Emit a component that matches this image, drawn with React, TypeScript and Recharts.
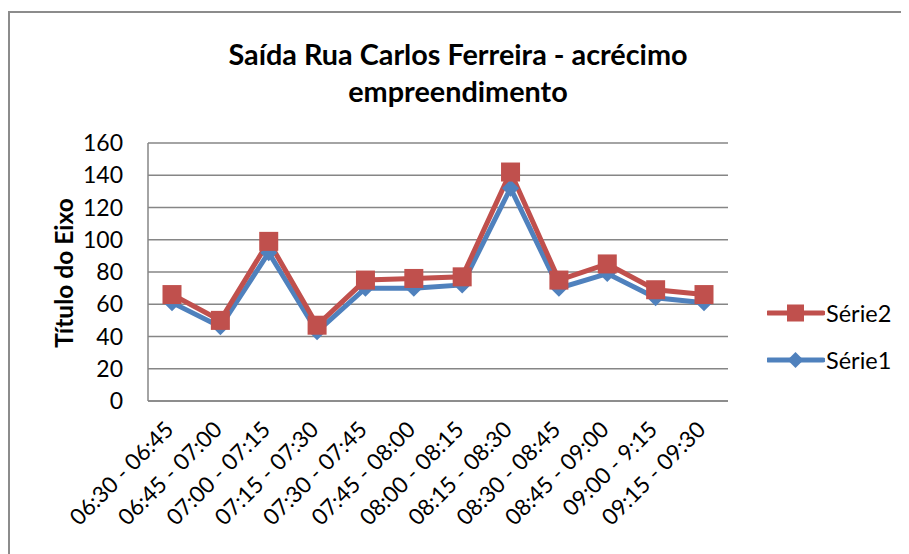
import React from "react";
import { LineChart, Line, XAxis, YAxis, CartesianGrid } from "recharts";

const categories = [
  "06:30 - 06:45",
  "06:45 - 07:00",
  "07:00 - 07:15",
  "07:15 - 07:30",
  "07:30 - 07:45",
  "07:45 - 08:00",
  "08:00 - 08:15",
  "08:15 - 08:30",
  "08:30 - 08:45",
  "08:45 - 09:00",
  "09:00 - 9:15",
  "09:15 - 09:30",
];
const serie1 = [61, 46, 92, 43, 70, 70, 72, 132, 70, 79, 64, 61];
const serie2 = [66, 50, 99, 47, 75, 76, 77, 142, 75, 85, 69, 66];
const yTicks = [0, 20, 40, 60, 80, 100, 120, 140, 160];

const data = categories.map((c, i) => ({ cat: c, s1: serie1[i], s2: serie2[i] }));

const FONT = "Lato, 'Open Sans', sans-serif";
const RED = "#C0504D";
const BLUE = "#4F81BD";
const GRID = "#868686";

function XTick(props: any) {
  const { x, y, payload } = props;
  const ax = x + 3;
  const ay = y + 22;
  return (
    <text
      x={ax}
      y={ay}
      transform={`rotate(-45, ${ax}, ${ay})`}
      textAnchor="end"
      fontSize={22.5}
      fontFamily={FONT}
      fill="#000"
    >
      {payload.value}
    </text>
  );
}

function Square(props: any) {
  const { cx, cy } = props;
  if (cx == null || cy == null) return null;
  return <rect x={cx - 9.5} y={cy - 9.5} width={19} height={19} fill={RED} />;
}

function Diamond(props: any) {
  const { cx, cy } = props;
  if (cx == null || cy == null) return null;
  const r = 8.5;
  return (
    <path
      d={`M${cx},${cy - r} L${cx + r},${cy} L${cx},${cy + r} L${cx - r},${cy} Z`}
      fill={BLUE}
    />
  );
}

const legendItems = [
  { name: "Série2", color: RED, marker: "square" },
  { name: "Série1", color: BLUE, marker: "diamond" },
];

function LegendBox() {
  return (
    <div style={{ position: "absolute", left: 758, top: 292, fontFamily: FONT }}>
      {legendItems.map((it) => (
        <div
          key={it.name}
          style={{ display: "flex", alignItems: "center", height: 24, marginBottom: 23 }}
        >
          <svg width={58} height={24}>
            <line x1={1} y1={12} x2={56} y2={12} stroke={it.color} strokeWidth={5} strokeLinecap="round" />
            {it.marker === "square" ? (
              <rect x={20} y={3.5} width={17} height={17} fill={it.color} />
            ) : (
              <path d="M28.5,4 L36.5,12 L28.5,20 L20.5,12 Z" fill={it.color} />
            )}
          </svg>
          <span style={{ fontSize: 23.5, color: "#000", marginLeft: 1 }}>{it.name}</span>
        </div>
      ))}
    </div>
  );
}

export default function App() {
  return (
    <div
      style={{
        position: "relative",
        width: 901,
        height: 546,
        overflow: "hidden",
        background: "#fff",
        fontFamily: FONT,
      }}
    >
      {/* chart frame: only top and left edges fall inside the view */}
      <div
        style={{
          position: "absolute",
          left: 0,
          top: 3,
          width: 2000,
          height: 2000,
          borderTop: "2px solid #8c8c8c",
          borderLeft: "2px solid #8c8c8c",
        }}
      />
      <div style={{ position: "absolute", left: 1, top: 1, width: 890, height: 544 }}>
        <div
          style={{
            position: "absolute",
            left: 0,
            width: 898,
            top: 27,
            textAlign: "center",
            fontWeight: 700,
            fontSize: 28.8,
            lineHeight: "37px",
            color: "#000",
          }}
        >
          Saída Rua Carlos Ferreira - acrécimo
          <br />
          empreendimento
        </div>
        <div
          style={{
            position: "absolute",
            left: 54,
            top: 264,
            transform: "translate(-50%, -50%) rotate(-90deg)",
            fontWeight: 700,
            fontSize: 24.5,
            whiteSpace: "nowrap",
            color: "#000",
          }}
        >
          Título do Eixo
        </div>
        <LineChart
          width={890}
          height={544}
          data={data}
          margin={{ top: 134, right: 171, left: 0, bottom: 0 }}
        >
          <CartesianGrid vertical={false} stroke={GRID} strokeWidth={1.5} />
          <XAxis
            dataKey="cat"
            height={152}
            interval={0}
            padding={{ left: 24, right: 24 }}
            tick={<XTick />}
            tickLine={false}
            axisLine={{ stroke: GRID, strokeWidth: 1.5 }}
          />
          <YAxis
            width={139}
            domain={[0, 160]}
            ticks={yTicks}
            tickLine={false}
            tickSize={0}
            tickMargin={25}
            axisLine={{ stroke: GRID, strokeWidth: 1.5 }}
            tick={{ fontSize: 23, fill: "#000", fontFamily: FONT }}
          />
          <Line
            type="linear"
            dataKey="s1"
            name="Série1"
            stroke={BLUE}
            strokeWidth={5}
            dot={<Diamond />}
            activeDot={false}
            isAnimationActive={false}
          />
          <Line
            type="linear"
            dataKey="s2"
            name="Série2"
            stroke={RED}
            strokeWidth={5}
            dot={<Square />}
            activeDot={false}
            isAnimationActive={false}
          />
        </LineChart>
        <LegendBox />
      </div>
    </div>
  );
}
